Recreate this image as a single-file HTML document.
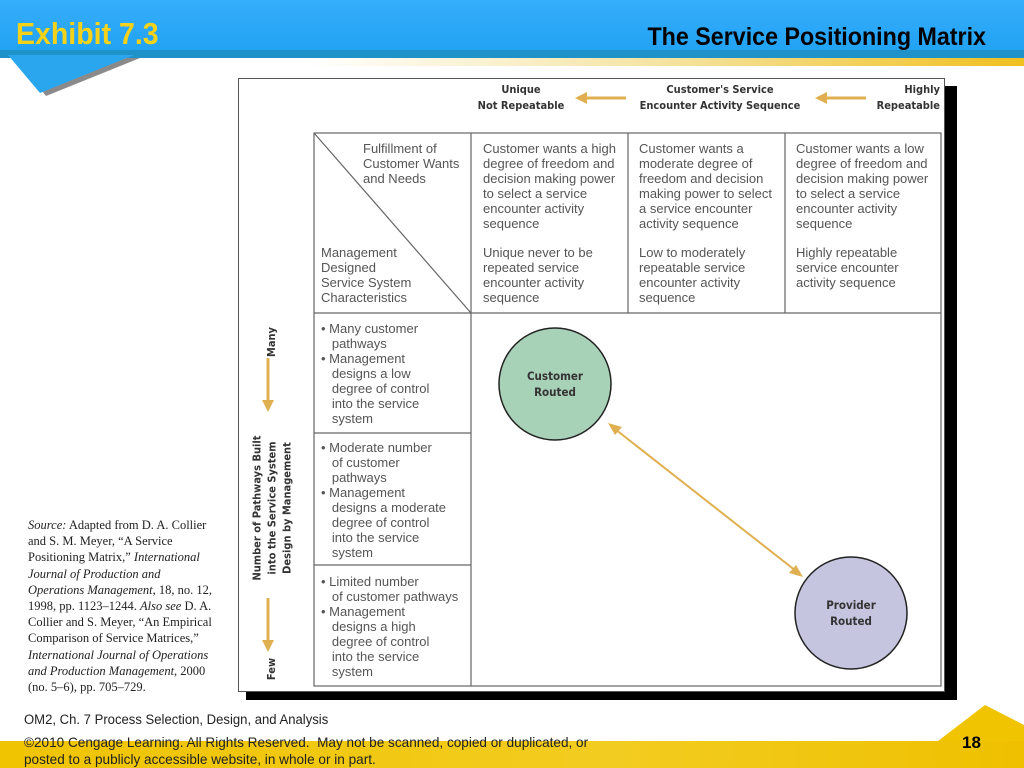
<!DOCTYPE html>
<html><head><meta charset="utf-8"><style>
*{margin:0;padding:0;box-sizing:border-box}
body{width:1024px;height:768px;position:relative;overflow:hidden;background:#fff;font-family:"Liberation Sans",sans-serif}
.a{position:absolute}
.t{position:absolute;font-size:13px;line-height:15px;color:#555;white-space:nowrap}
.h{font-family:"DejaVu Sans Condensed","DejaVu Sans",sans-serif;font-weight:bold;color:#333;font-size:11px;line-height:16px;position:absolute;white-space:nowrap}
.src{position:absolute;left:28px;top:517px;font-family:"Liberation Serif",serif;font-size:12.5px;line-height:16.2px;color:#222;white-space:nowrap}
</style></head><body>
<div class="a" style="left:0;top:0;width:1024px;height:52px;background:linear-gradient(#35aefb,#22a2f3)"></div>
<div class="a" style="left:0;top:50px;width:1024px;height:8px;background:#1f93c9"></div>
<div class="a" style="left:0;top:58px;width:1024px;height:8px;background:linear-gradient(90deg,#fff 0%,#fff 30%,#f5e3a0 65%,#f0c020 100%)"></div>
<svg class="a" style="left:0;top:0" width="160" height="100"><polygon points="16,58 140,58 46,96" fill="#8a8a8a"/><polygon points="8,55 134,55 40,93" fill="#2aa6ef"/></svg>
<div class="a" style="left:16px;top:16px;font-size:31px;font-weight:bold;color:#f5d21a;transform:scaleX(0.92);transform-origin:left">Exhibit 7.3</div>
<div class="a" style="right:38px;top:23px;font-size:25px;font-weight:bold;color:#000;transform:scaleX(0.93);transform-origin:right">The Service Positioning Matrix</div>

<div class="a" style="left:246px;top:86px;width:711px;height:614px;background:#000"></div>
<div class="a" style="left:238px;top:78px;width:707px;height:614px;background:#fff;border:1px solid #555"></div>

<div class="h" style="left:476px;top:82px;text-align:center;width:90px">Unique<br>Not Repeatable</div>
<div class="h" style="left:636px;top:82px;text-align:center;width:168px">Customer's Service<br>Encounter Activity Sequence</div>
<div class="h" style="left:860px;top:82px;text-align:right;width:80px">Highly<br>Repeatable</div>
<svg class="a" style="left:0;top:0" width="1024" height="768">
<g stroke="#e0b050" fill="#e0b050" stroke-width="3">
<line x1="626" y1="98" x2="585" y2="98"/><polygon points="575,98 587,92 587,104" stroke="none"/>
<line x1="866" y1="98" x2="825" y2="98"/><polygon points="815,98 827,92 827,104" stroke="none"/>
<line x1="268" y1="358" x2="268" y2="402"/><polygon points="268,412 262,400 274,400" stroke="none"/>
<line x1="268" y1="598" x2="268" y2="642"/><polygon points="268,652 262,640 274,640" stroke="none"/>
<line x1="615" y1="429" x2="796" y2="571" stroke-width="2"/>
<polygon points="608,423 622,427 615,435" stroke="none"/>
<polygon points="803,577 789,573 796,565" stroke="none"/>
</g>
<g stroke="#666" fill="none" stroke-width="1.2">
<rect x="314" y="133" width="627" height="553"/>
<line x1="471" y1="133" x2="471" y2="686"/>
<line x1="628" y1="133" x2="628" y2="313"/>
<line x1="785" y1="133" x2="785" y2="313"/>
<line x1="314" y1="313" x2="941" y2="313"/>
<line x1="314" y1="433" x2="471" y2="433"/>
<line x1="314" y1="565" x2="471" y2="565"/>
<line x1="314" y1="133" x2="471" y2="313"/>
</g>
<circle cx="555" cy="384" r="56" fill="#a8d2b8" stroke="#222" stroke-width="1.5"/>
<circle cx="851" cy="613" r="56" fill="#c6c5e0" stroke="#222" stroke-width="1.5"/>
</svg>
<div class="h" style="left:505px;top:368px;width:100px;text-align:center;font-size:11.5px">Customer<br>Routed</div>
<div class="h" style="left:801px;top:597px;width:100px;text-align:center;font-size:11.5px">Provider<br>Routed</div>
<div class="h" style="left:272px;top:342px;transform:translate(-50%,-50%) rotate(-90deg)">Many</div>
<div class="h" style="left:272px;top:669px;transform:translate(-50%,-50%) rotate(-90deg)">Few</div>
<div class="h" style="left:272px;top:508px;text-align:center;transform:translate(-50%,-50%) rotate(-90deg);line-height:15px">Number of Pathways Built<br>into the Service System<br>Design by Management</div>

<div class="t" style="left:363px;top:141px">Fulfillment of<br>Customer Wants<br>and Needs</div>
<div class="t" style="left:321px;top:245px">Management<br>Designed<br>Service System<br>Characteristics</div>
<div class="t" style="left:483px;top:141px">Customer wants a high<br>degree of freedom and<br>decision making power<br>to select a service<br>encounter activity<br>sequence</div>
<div class="t" style="left:483px;top:245px">Unique never to be<br>repeated service<br>encounter activity<br>sequence</div>
<div class="t" style="left:639px;top:141px">Customer wants a<br>moderate degree of<br>freedom and decision<br>making power to select<br>a service encounter<br>activity sequence</div>
<div class="t" style="left:639px;top:245px">Low to moderately<br>repeatable service<br>encounter activity<br>sequence</div>
<div class="t" style="left:796px;top:141px">Customer wants a low<br>degree of freedom and<br>decision making power<br>to select a service<br>encounter activity<br>sequence</div>
<div class="t" style="left:796px;top:245px">Highly repeatable<br>service encounter<br>activity sequence</div>
<div class="t" style="left:321px;top:321px">• Many customer<br>&nbsp;&nbsp; pathways<br>• Management<br>&nbsp;&nbsp; designs a low<br>&nbsp;&nbsp; degree of control<br>&nbsp;&nbsp; into the service<br>&nbsp;&nbsp; system</div>
<div class="t" style="left:321px;top:440px">• Moderate number<br>&nbsp;&nbsp; of customer<br>&nbsp;&nbsp; pathways<br>• Management<br>&nbsp;&nbsp; designs a moderate<br>&nbsp;&nbsp; degree of control<br>&nbsp;&nbsp; into the service<br>&nbsp;&nbsp; system</div>
<div class="t" style="left:321px;top:574px">• Limited number<br>&nbsp;&nbsp; of customer pathways<br>• Management<br>&nbsp;&nbsp; designs a high<br>&nbsp;&nbsp; degree of control<br>&nbsp;&nbsp; into the service<br>&nbsp;&nbsp; system</div>

<div class="src"><i>Source:</i> Adapted from D. A. Collier<br>and S. M. Meyer, “A Service<br>Positioning Matrix,” <i>International</i><br><i>Journal of Production and</i><br><i>Operations Management,</i> 18, no. 12,<br>1998, pp. 1123–1244. <i>Also see</i> D. A.<br>Collier and S. Meyer, “An Empirical<br>Comparison of Service Matrices,”<br><i>International Journal of Operations</i><br><i>and Production Management</i>, 2000<br>(no. 5–6), pp. 705–729.</div>

<div class="a" style="left:0;top:741px;width:1024px;height:27px;background:linear-gradient(90deg,#f0c400,#f2cc20 60%,#efc000)"></div>
<svg class="a" style="left:0;top:0" width="1024" height="768"><polygon points="938,741 1024,741 1024,725 985,705" fill="#f0c400"/></svg>
<div class="a" style="left:24px;top:712px;font-size:13.5px;color:#222;transform:scaleX(0.97);transform-origin:left">OM2, Ch. 7 Process Selection, Design, and Analysis</div>
<div class="a" style="left:24px;top:734px;font-size:14px;line-height:17px;color:#222;white-space:nowrap;transform:scaleX(0.97);transform-origin:left">©2010 Cengage Learning. All Rights Reserved.&nbsp; May not be scanned, copied or duplicated, or<br>posted to a publicly accessible website, in whole or in part.</div>
<div class="a" style="left:962px;top:733px;font-size:17px;font-weight:bold;color:#000">18</div>
</body></html>
